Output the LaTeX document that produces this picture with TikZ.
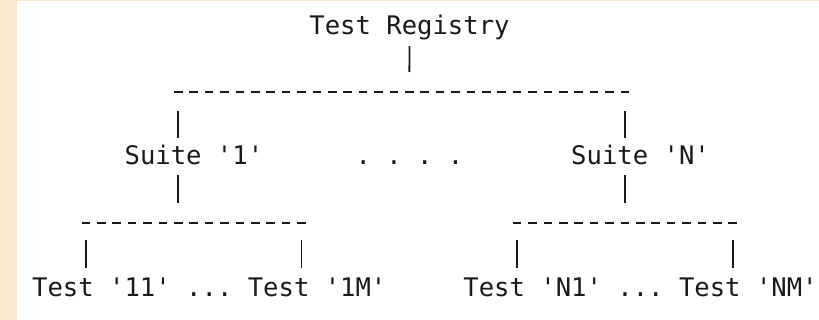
\documentclass[tikz,border=0pt]{standalone}
\usepackage{fontspec}
\usepackage{tikz}
\usetikzlibrary{positioning}
\newfontfamily\asciifont{DejaVu Sans Mono}
\definecolor{PaperTan}{HTML}{F8E8CC}
\definecolor{InkBlack}{HTML}{1A1A1A}
\frenchspacing

\begin{document}
\begin{tikzpicture}[x=1pt, y=-1pt,
                    every node/.style={inner sep=0pt, anchor=base west, text=InkBlack,
                                       text height=19pt, text depth=0pt,
                                       font=\asciifont\fontsize{25.58}{30}\selectfont},
                    bar/.style={draw=InkBlack, line width=2pt, dash pattern=on 8.5pt off 6.9pt},
                    pipe/.style={draw=InkBlack, line width=1.8pt}]
  \fill[white] (0,0) rectangle (819,320);
  \fill[PaperTan] (0,0) rectangle (17,320);
  \fill[PaperTan] (0,0) rectangle (819,1.5);
  \useasboundingbox (0,0) rectangle (819,320);
  % text rows
  \node (reg) at (309.2,35) {Test Registry};
  \node (suite1) at (124.4,165) {Suite '1'};
  \node (gap) at (355.4,165) {. . . .};
  \node (suiteN) at (571,165) {Suite 'N'};
  \node (t11) at (32,297) {Test '11'};
  \node (gapL) at (186,297) {...};
  \node (t1M) at (247.6,297) {Test '1M'};
  \node (tN1) at (463.2,297) {Test 'N1'};
  \node (gapR) at (617.2,297) {...};
  \node (tNM) at (678.8,297) {Test 'NM'};
  % dashed bars
  \coordinate (jR) at (409.3,92);
  \coordinate (j1) at (178.3,92);
  \coordinate (jN) at (624.9,92);
  \coordinate (topL) at (174.05,92);
  \coordinate (topR) at (629.15,92);
  \coordinate (l1) at (85.9,223);
  \coordinate (l2) at (301.5,223);
  \coordinate (r1) at (517.1,223);
  \coordinate (r2) at (732.7,223);
  \draw[bar] (topL) -- (topR);
  \draw[bar] ([xshift=-4.25pt]l1) -- ([xshift=4.25pt]l2);
  \draw[bar] ([xshift=-4.25pt]r1) -- ([xshift=4.25pt]r2);
  % pipes
  \draw[pipe, shorten <=11pt, shorten >=20pt] (reg.south) -- (jR);
  \draw[pipe, shorten <=19pt, shorten >=8pt] (j1) -- (j1 |- suite1.north);
  \draw[pipe, shorten <=19pt, shorten >=8pt] (jN) -- (jN |- suiteN.north);
  \draw[pipe, shorten <=10pt, shorten >=20pt] (j1 |- suite1.south) -- (j1 |- l1);
  \draw[pipe, shorten <=10pt, shorten >=20pt] (jN |- suiteN.south) -- (jN |- r1);
  \draw[pipe, shorten <=17pt, shorten >=10pt] (l1) -- (l1 |- t11.north);
  \draw[pipe, shorten <=17pt, shorten >=10pt] (l2) -- (l2 |- t1M.north);
  \draw[pipe, shorten <=17pt, shorten >=10pt] (r1) -- (r1 |- tN1.north);
  \draw[pipe, shorten <=17pt, shorten >=10pt] (r2) -- (r2 |- tNM.north);
\end{tikzpicture}
\end{document}
